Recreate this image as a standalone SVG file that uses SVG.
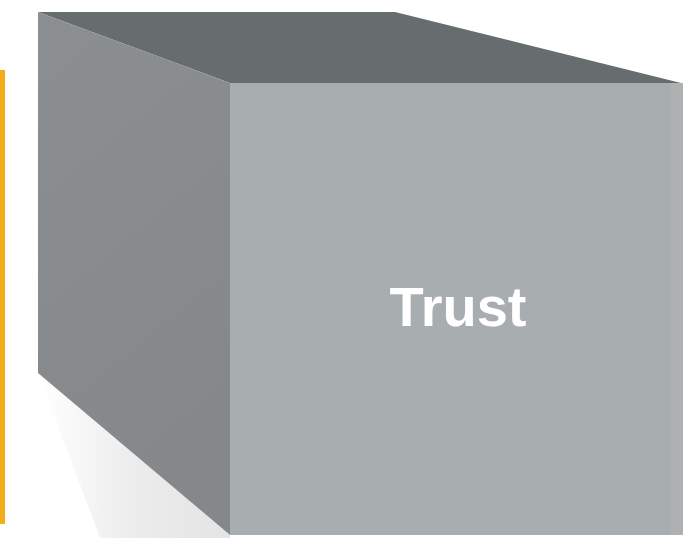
<svg xmlns="http://www.w3.org/2000/svg" width="683" height="538" viewBox="0 0 683 538">
<defs>
<linearGradient id="shadowG" x1="0" y1="0" x2="1" y2="0">
<stop offset="0" stop-color="#ffffff"/>
<stop offset="0.5" stop-color="#ececec"/>
<stop offset="1" stop-color="#e4e4e4"/>
</linearGradient>
<linearGradient id="leftG" x1="0" y1="0" x2="0.3" y2="1">
<stop offset="0" stop-color="#8c8f91"/>
<stop offset="1" stop-color="#85888a"/>
</linearGradient>
<style>
.label{font-family:"Liberation Sans",Arial,sans-serif;font-weight:bold;fill:#ffffff;}
</style>
</defs>
<rect width="683" height="538" fill="#ffffff"/>
<rect x="0" y="70" width="5" height="454" fill="#f2ad1a"/>
<g id="cube">
<polygon points="38,373 230,535 230,538 100,538" fill="url(#shadowG)"/>
<polygon points="38,12 395,12 681,83 230,83" fill="#676c6f"/>
<polygon points="38,12 230,83 230,535 38,373" fill="url(#leftG)"/>
<rect x="230" y="83" width="453" height="452" fill="#a8adaf"/>
<rect x="671" y="83" width="12" height="452" fill="#adb1b2"/>
<text class="label" x="458" y="326" font-size="56" text-anchor="middle">Trust</text>
</g>
</svg>
